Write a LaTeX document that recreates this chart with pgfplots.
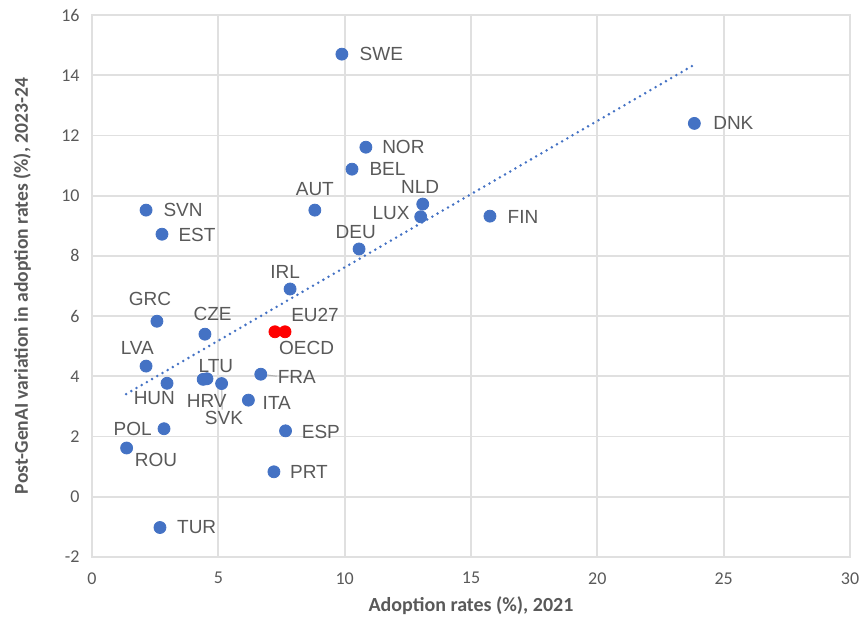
\documentclass[border=0pt]{standalone}
\usepackage{fontspec}
\setmainfont{Carlito}
\newfontfamily\arialf{Liberation Sans}
\newfontfamily\carlitobold{Carlito Bold}
\usepackage{pgfplots}
\usepackage{pgfplotstable}
\pgfplotsset{compat=1.18}
\definecolor{ptblue}{HTML}{4472C4}
\definecolor{txtgray}{HTML}{595959}
\definecolor{gridgray}{HTML}{E0E0E0}

\pgfplotstableread{
x y lbl dx dy
9.89 14.70 SWE 19.75 0
23.84 12.40 DNK 19.5 0
10.84 11.61 NOR 18.75 0
10.29 10.88 BEL 17.75 0
8.82 9.52 AUT 0 10.5
13.09 9.72 NLD -1.35 8.5
13.01 9.30 LUX -14.85 2
15.75 9.32 FIN 16.5 -0.5
10.57 8.23 DEU -1.65 8.5
2.14 9.52 SVN 18.5 0
2.77 8.72 EST 17.5 -0.5
7.84 6.90 IRL -2.5 8.5
2.57 5.83 GRC -3.5 11.35
4.47 5.40 CZE 3.85 10.35
2.14 4.34 LVA -4.35 8.85
2.97 3.77 HUN -6.35 -7.15
4.55 3.92 LTU 4.5 6.5
4.40 3.90 HRV 1.75 -11
5.13 3.76 SVK 1.15 -17
6.68 4.07 FRA 18 -1.35
6.19 3.21 ITA 14.2 -1.65
7.66 2.19 ESP 17.65 -0.5
2.85 2.26 POL -15.65 0
1.37 1.62 ROU 14.65 -5.8
7.20 0.83 PRT 17.5 0
2.69 -1.02 TUR 18.35 0
}\countries

\pgfplotstableread{
x y lbl dx dy
7.64 5.48 EU27 15 8.35
7.24 5.48 OECD 15.85 -8.3
}\aggregates

\pgfplotsset{
  lblscatter/.style={only marks, mark=*, mark size=3pt, color=#1,
    mark options={draw=#1, fill=#1},
    point meta=explicit symbolic,
    visualization depends on={\thisrow{dx}\as\dx},
    visualization depends on={\thisrow{dy}\as\dy},
    nodes near coords,
    every node near coord/.append style={anchor=center, xshift=\dx pt, yshift=\dy pt,
       font=\arialf\fontsize{9.5}{11}\selectfont, text=txtgray, inner sep=0pt}},
}

\begin{document}
\begin{tikzpicture}
\useasboundingbox (-46pt,-30.5pt) rectangle (384pt,278.5pt);
\begin{axis}[
  at={(0,0)}, anchor=south west,
  scale only axis, width=379pt, height=271pt,
  xmin=0, xmax=30, ymin=-2, ymax=16,
  xtick={0,5,...,30}, ytick={-2,0,...,16},
  grid=major,
  major grid style={draw=gridgray, line width=0.9pt},
  axis line style={draw=gridgray, line width=0.9pt},
  tick style={draw=none},
  /pgf/number format/assume math mode=true,
  ticklabel style={font=\fontsize{9}{11}\selectfont, text=txtgray},
  xticklabel style={anchor=north, inner sep=0pt, yshift=-7.5pt},
  yticklabel style={anchor=east, inner sep=0pt, xshift=-6pt},
  yticklabels={-2,0,2,4,6,8,10,12,14,16},
  xlabel={Adoption rates (\%), 2021},
  ylabel={Post-GenAI variation in adoption rates (\%), 2023-24},
  every axis x label/.style={at={(axis description cs:0.5,-0.0904)}, anchor=center,
     font=\carlitobold\fontsize{10}{12}\selectfont, text=txtgray},
  every axis y label/.style={at={(axis description cs:-0.0923,0.5)}, rotate=90, anchor=center,
     font=\carlitobold\fontsize{9.8}{12}\selectfont, text=txtgray},
  clip=false,
]
\addplot[ptblue, line width=1.4pt, line cap=round, dash pattern=on 0pt off 3pt]
  coordinates {(1.35,3.41) (23.86,14.36)};

\draw[gray!60, line width=0.5pt] (axis cs:5.13,3.76) -- ++(0.3pt,-13pt);
\draw[gray!60, line width=0.5pt] (axis cs:6.68,4.07) -- ++(8pt,-1pt);

\addplot[lblscatter=ptblue] table[x=x, y=y, meta=lbl] {\countries};
\addplot[lblscatter=red] table[x=x, y=y, meta=lbl] {\aggregates};
\end{axis}
\end{tikzpicture}
\end{document}
